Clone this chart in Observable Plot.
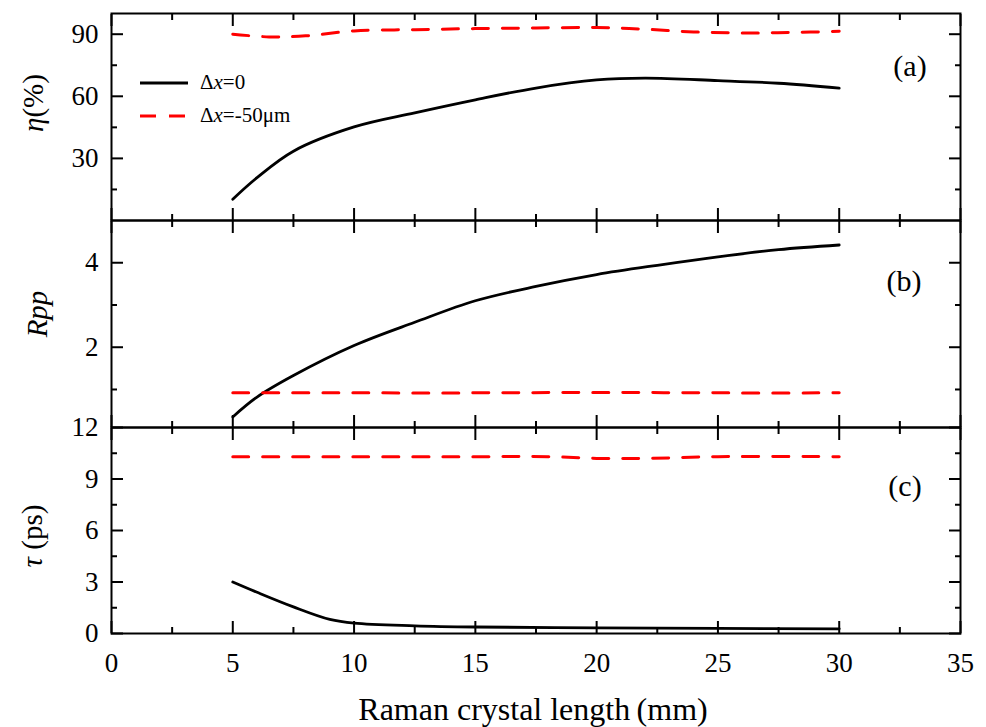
<!DOCTYPE html>
<html><head><meta charset="utf-8">
<script src="https://cdn.jsdelivr.net/npm/d3@7"></script>
<script src="https://cdn.jsdelivr.net/npm/@observablehq/plot@0.6"></script>
<style>
body{margin:0;background:#fff;}
#chart{position:relative;width:986px;height:727px;font-family:"Liberation Serif","Times New Roman",serif;color:#000;overflow:hidden;background:#fff}
.lbl{position:absolute;white-space:nowrap;line-height:1;}
.rot{transform:translate(-50%,-50%) rotate(-90deg);}
.ctr{transform:translate(-50%,-50%);}
</style></head><body><div id="chart"></div>
<script>
// ---- data ----
const xMajor = [0, 5, 10, 15, 20, 25, 30, 35];
const xMinor = [2.5, 7.5, 12.5, 17.5, 22.5, 27.5, 32.5];

// (a) conversion efficiency eta (%)
const etaX0 = [5, 6, 7.5, 10, 12.5, 15, 17.5, 20, 22, 25, 27.5, 30];
const eta0  = [10.3, 20.7, 33.5, 45.2, 52, 58.3, 64, 67.9, 68.8, 67.6, 66.3, 64];
const etaX50 = [5, 6.5, 8, 10, 12.5, 15, 17.5, 20, 22, 24, 26, 28, 30];
const eta50  = [90, 88.7, 89.2, 91.6, 92.2, 92.7, 93, 93.2, 92.4, 91.1, 90.6, 90.8, 91.4];
const etaTicks = [30, 60, 90];
const etaMinor = [15, 45, 75];

// (b) Rpp
const rppX0 = [5, 6, 7.5, 10, 12.5, 15, 17.5, 20, 22.5, 25, 27.5, 30];
const rpp0  = [0.35, 0.82, 1.33, 2.04, 2.59, 3.1, 3.44, 3.72, 3.94, 4.14, 4.31, 4.42];
const rppX50 = [5, 10, 15, 20, 25, 30];
const rpp50  = [0.92, 0.92, 0.92, 0.93, 0.92, 0.92];
const rppTicks = [2, 4];
const rppMinor = [1, 3];

// (c) pulse width tau (ps)
const tauX0 = [5, 6, 7.5, 9, 10, 12.5, 15, 20, 25, 30];
const tau0  = [3.0, 2.4, 1.55, 0.82, 0.6, 0.45, 0.38, 0.33, 0.3, 0.27];
const tauX50 = [5, 10, 15, 18, 20, 22, 25, 30];
const tau50  = [10.3, 10.3, 10.3, 10.3, 10.2, 10.2, 10.3, 10.3];
const tauTicks = [0, 3, 6, 9, 12];
const tauMinor = [1.5, 4.5, 7.5, 10.5];

// ---- drawing ----
const chart = document.getElementById("chart");
const FONT = "Liberation Serif";
const pts = (xs, ys) => xs.map((x, i) => [x, ys[i]]);

function seriesMarks(x0, y0, x50, y50) {
  return [
    Plot.line(pts(x0, y0), {x: d => d[0], y: d => d[1], stroke: "#000", strokeWidth: 2.8, curve: "catmull-rom"}),
    Plot.line(pts(x50, y50), {x: d => d[0], y: d => d[1], stroke: "#ff0000", strokeWidth: 3, strokeDasharray: "16,14", curve: "catmull-rom"})
  ];
}

function panel({top, height, mt, mb, yDomain, yMajor, yMinor, marks, xLabels}) {
  const svg = Plot.plot({
    width: 986, height,
    marginLeft: 111, marginRight: 26, marginTop: mt, marginBottom: mb,
    x: {domain: [0, 35]},
    y: {domain: yDomain},
    style: {background: "transparent", overflow: "visible", fontFamily: FONT, color: "#000"},
    marks: [
      ...marks,
      xLabels
        ? Plot.axisX(xMajor, {anchor: "bottom", tickSize: -12, tickPadding: 31, strokeWidth: 2, fontSize: 27, label: null})
        : Plot.axisX(xMajor, {anchor: "bottom", tickSize: -12, strokeWidth: 2, fill: "none"}),
      Plot.axisX(xMinor, {anchor: "bottom", tickSize: -6, strokeWidth: 2, fill: "none"}),
      Plot.axisX(xMajor, {anchor: "top", tickSize: -12, strokeWidth: 2, fill: "none"}),
      Plot.axisX(xMinor, {anchor: "top", tickSize: -6, strokeWidth: 2, fill: "none"}),
      Plot.axisY(yMajor, {anchor: "left", tickSize: -12, tickPadding: 25, strokeWidth: 2, fontSize: 27, label: null}),
      Plot.axisY(yMinor, {anchor: "left", tickSize: -6, strokeWidth: 2, fill: "none"}),
      Plot.axisY(yMajor, {anchor: "right", tickSize: -12, strokeWidth: 2, fill: "none"}),
      Plot.axisY(yMinor, {anchor: "right", tickSize: -6, strokeWidth: 2, fill: "none"}),
      Plot.frame({stroke: "#000", strokeWidth: 2})
    ]
  });
  svg.style.position = "absolute";
  svg.style.left = "0px";
  svg.style.top = top + "px";
  chart.appendChild(svg);
}

panel({top: 0, height: 230, mt: 13, mb: 10, yDomain: [0, 100], yMajor: etaTicks, yMinor: etaMinor,
  marks: seriesMarks(etaX0, eta0, etaX50, eta50)});
panel({top: 210, height: 227, mt: 10, mb: 10, yDomain: [0.1, 5], yMajor: rppTicks, yMinor: rppMinor,
  marks: seriesMarks(rppX0, rpp0, rppX50, rpp50)});
panel({top: 417, height: 310, mt: 10, mb: 94, yDomain: [0, 12], yMajor: tauTicks, yMinor: tauMinor,
  marks: seriesMarks(tauX0, tau0, tauX50, tau50), xLabels: true});

// ---- texts ----
function label(html, left, top, size, cls) {
  const d = document.createElement("div");
  d.className = "lbl " + cls;
  d.style.left = left + "px";
  d.style.top = top + "px";
  d.style.fontSize = size + "px";
  d.innerHTML = html;
  chart.appendChild(d);
}
label("<i>η</i>(%)", 33, 103, 29, "rot");
label("<i>Rpp</i>", 37, 314, 29, "rot");
label("<i>τ</i> (ps)", 32, 536, 29, "rot");
label("(a)", 910, 66, 30, "ctr");
label("(b)", 904, 281, 30, "ctr");
label("(c)", 905, 486, 30, "ctr");
label("Raman crystal length\u2009(mm)", 533, 709, 32, "ctr");

// legend
function legendItem(y, stroke, dash, html) {
  const ns = "http://www.w3.org/2000/svg";
  const s = document.createElementNS(ns, "svg");
  s.setAttribute("width", 50); s.setAttribute("height", 8);
  s.style.position = "absolute"; s.style.left = "139px"; s.style.top = (y - 4) + "px";
  const l = document.createElementNS(ns, "line");
  l.setAttribute("x1", 1); l.setAttribute("x2", 49); l.setAttribute("y1", 4); l.setAttribute("y2", 4);
  l.setAttribute("stroke", stroke); l.setAttribute("stroke-width", 3);
  if (dash) l.setAttribute("stroke-dasharray", dash);
  s.appendChild(l);
  chart.appendChild(s);
  const d = document.createElement("div");
  d.className = "lbl";
  d.style.left = "200px"; d.style.top = (y - 11) + "px"; d.style.fontSize = "21px";
  d.innerHTML = html;
  chart.appendChild(d);
}
legendItem(83, "#000", null, "Δ<i>x</i>=0");
legendItem(116, "#ff0000", "16,13", "Δ<i>x</i>=-50μm");
</script>
</body></html>
